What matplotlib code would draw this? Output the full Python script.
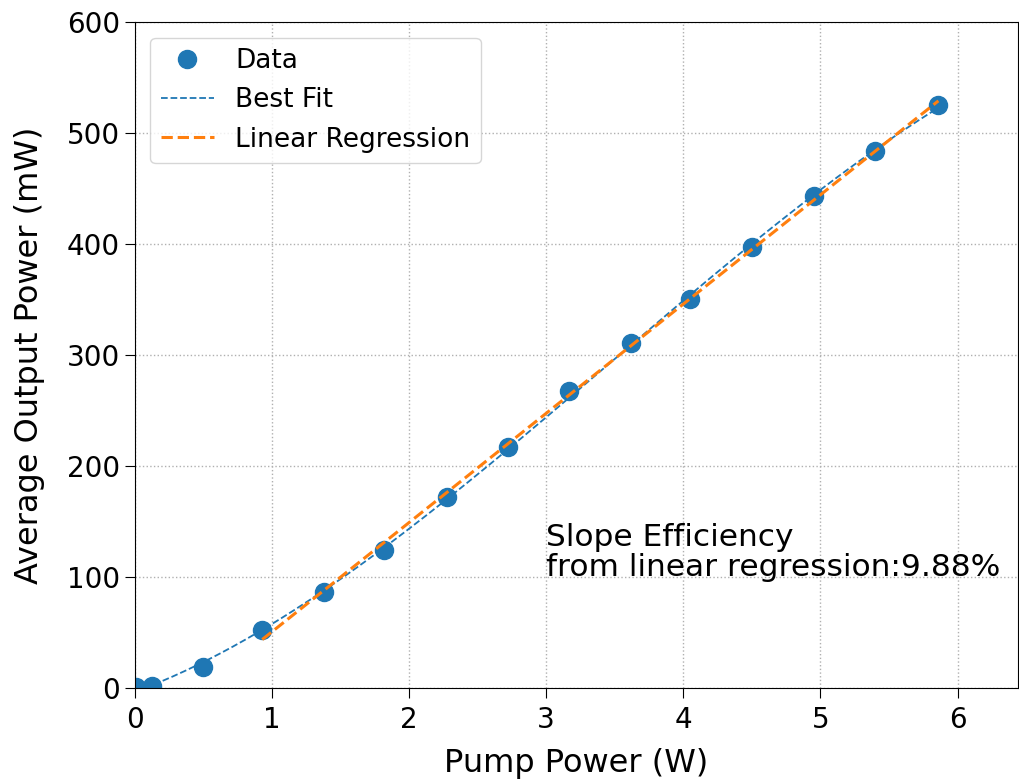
import numpy as np
import matplotlib
matplotlib.use('Agg')
import matplotlib.pyplot as plt

# pump power (W) and output power (mW)
pump_w = [0.01, 0.13, 0.50, 0.93, 1.38, 1.82, 2.28, 2.72, 3.17, 3.62, 4.05, 4.50, 4.95, 5.40, 5.86]
out_mw = [1, 2, 19, 52, 86, 124, 172, 217, 267, 311, 350, 397, 443, 484, 525]
lin_start = 3  # linear regression uses points from this index on
slope_text = 'Slope Efficiency\nfrom linear regression:9.88%'

x = np.array(pump_w)
y = np.array(out_mw)

## best fit polynomial over all points
p_fit = np.polyfit(x, y, 3)
xf = np.linspace(x[0], x[-1], 200)

## linear regression on the upper points
p_lin = np.polyfit(x[lin_start:], y[lin_start:], 1)
xl = np.linspace(x[lin_start], x[-1], 50)

fig = plt.figure(figsize=(10.2, 7.79), dpi=100)
ax = fig.add_axes([0.132, 0.117, 0.866, 0.855])

ax.plot(x, y, 'o', color='C0', markersize=13, label='Data')
ax.plot(xf, np.polyval(p_fit, xf), '--', color='C0', lw=1.3, label='Best Fit')
ax.plot(xl, np.polyval(p_lin, xl), '--', color='C1', lw=2.2, label='Linear Regression')

ax.text(3.0, 95, slope_text, fontsize=22.5, va='bottom', ha='left', linespacing=1.05)

ax.set_xlim(0, 6.44)
ax.set_ylim(0, 600)
ax.set_xticks(range(0, 7))
ax.set_yticks(range(0, 601, 100))
ax.tick_params(labelsize=20, length=7)
ax.tick_params(axis='x', pad=6)
ax.set_xlabel('Pump Power (W)', fontsize=23, labelpad=10)
ax.set_ylabel('Average Output Power (mW)', fontsize=23, labelpad=16)
ax.grid(True, linestyle=':', color='#b0b0b0', lw=1)
ax.legend(loc='upper left', fontsize=19, borderaxespad=0.6)

plt.savefig('out.png', dpi=100)
